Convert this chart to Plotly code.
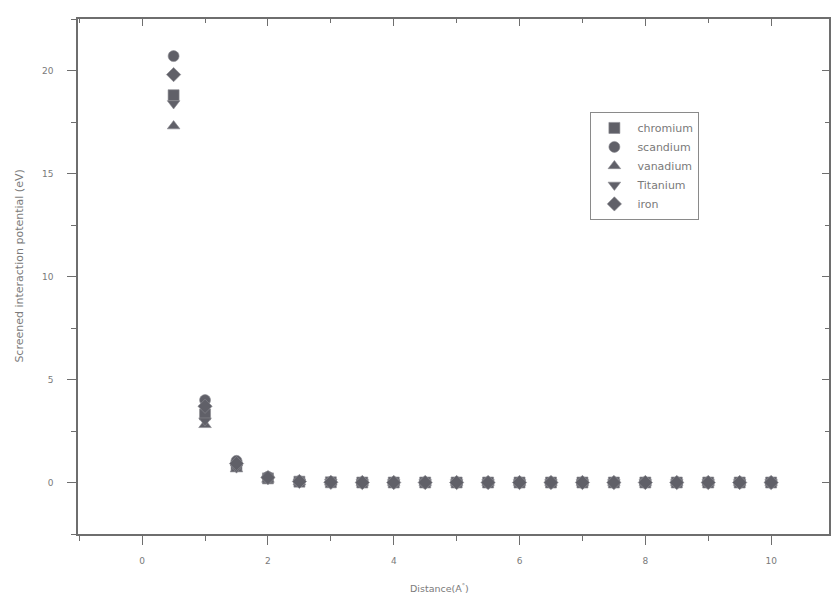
import plotly.graph_objects as go

# Interatomic distance (Angstrom)
distance = [0.5, 1.0, 1.5, 2.0, 2.5, 3.0, 3.5, 4.0, 4.5, 5.0, 5.5, 6.0, 6.5,
            7.0, 7.5, 8.0, 8.5, 9.0, 9.5, 10.0]

# Screened interaction potential (eV) for each metal
chromium = [18.8, 3.3, 0.80, 0.20, 0.04, 0.01, 0.0, 0.0, 0.0, 0.0, 0.0, 0.0,
            0.0, 0.0, 0.0, 0.0, 0.0, 0.0, 0.0, 0.0]
scandium = [20.7, 4.0, 1.05, 0.28, 0.06, 0.02, 0.0, 0.0, 0.0, 0.0, 0.0, 0.0,
            0.0, 0.0, 0.0, 0.0, 0.0, 0.0, 0.0, 0.0]
vanadium = [17.3, 2.8, 0.65, 0.15, 0.03, 0.01, 0.0, 0.0, 0.0, 0.0, 0.0, 0.0,
            0.0, 0.0, 0.0, 0.0, 0.0, 0.0, 0.0, 0.0]
titanium = [18.4, 3.0, 0.72, 0.18, 0.03, 0.01, 0.0, 0.0, 0.0, 0.0, 0.0, 0.0,
            0.0, 0.0, 0.0, 0.0, 0.0, 0.0, 0.0, 0.0]
iron = [19.8, 3.7, 0.92, 0.24, 0.05, 0.01, 0.0, 0.0, 0.0, 0.0, 0.0, 0.0,
        0.0, 0.0, 0.0, 0.0, 0.0, 0.0, 0.0, 0.0]

series_names = ["chromium", "scandium", "vanadium", "Titanium", "iron"]
series_values = [chromium, scandium, vanadium, titanium, iron]
symbols = ["square", "circle", "triangle-up", "triangle-down", "diamond"]

x_ticks = [0, 2, 4, 6, 8, 10]
y_ticks = [0, 5, 10, 15, 20]

MARK = "#606068"
AXIS = "#6e6e6e"
TEXT = "#7a7a7a"
FONT = "DejaVu Sans"

fig = go.Figure()
for name, vals, sym in zip(series_names, series_values, symbols):
    fig.add_trace(go.Scatter(
        x=distance, y=vals, name=name, mode="markers",
        marker=dict(symbol=sym, size=11, color=MARK,
                    line=dict(width=0.6, color="#8a8a90")),
    ))

# invisible trace so the mirrored top/right axes are drawn
fig.add_trace(go.Scatter(x=[None], y=[None], xaxis="x2", yaxis="y2",
                         showlegend=False, hoverinfo="skip"))

x_range = [-1.02, 10.92]
y_range = [-2.5, 22.5]

axis_common = dict(showgrid=False, zeroline=False, showline=True,
                   linecolor=AXIS, linewidth=1.5, tickcolor=AXIS,
                   tickfont=dict(family=FONT, size=9, color=TEXT))

fig.update_layout(
    width=832, height=604,
    margin=dict(l=78, r=3, t=19, b=70),
    paper_bgcolor="white", plot_bgcolor="white",
    font=dict(family=FONT, color=TEXT),
    xaxis=dict(range=x_range, tickvals=x_ticks, ticks="outside", ticklen=9,
               tickwidth=1.2, ticklabelstandoff=8,
               minor=dict(dtick=1, tick0=0, ticks="outside", ticklen=5,
                          tickcolor=AXIS),
               **axis_common),
    yaxis=dict(range=y_range, tickvals=y_ticks, ticks="outside", ticklen=9,
               tickwidth=1.2, ticklabelstandoff=12,
               minor=dict(dtick=2.5, tick0=0, ticks="outside", ticklen=5,
                          tickcolor=AXIS),
               **axis_common),
    xaxis2=dict(range=x_range, overlaying="x", side="top", anchor="y2",
                tickvals=x_ticks, ticks="inside", ticklen=7, showticklabels=False,
                minor=dict(dtick=1, tick0=0, ticks="inside", ticklen=4,
                           tickcolor=AXIS),
                **axis_common),
    yaxis2=dict(range=y_range, overlaying="y", side="right", anchor="x2",
                tickvals=y_ticks, ticks="inside", ticklen=7, showticklabels=False,
                minor=dict(dtick=2.5, tick0=0, ticks="inside", ticklen=4,
                           tickcolor=AXIS),
                **axis_common),
    legend=dict(x=0.682, y=0.819, xanchor="left", yanchor="top",
                bgcolor="white", bordercolor="#8a8a8a", borderwidth=1.2,
                font=dict(family=FONT, size=11, color=TEXT),
                itemwidth=36, tracegroupgap=0),
    showlegend=True,
    annotations=[
        # axis titles
        dict(text="Distance(A<sup>°</sup>)", xref="paper", yref="paper",
             x=0.482, y=-0.09, xanchor="center", yanchor="top",
             showarrow=False, font=dict(family=FONT, size=9.5, color=TEXT)),
        dict(text="Screened interaction potential (eV)", xref="paper",
             yref="paper", x=-0.078, y=0.52, xanchor="center",
             yanchor="middle", textangle=-90, showarrow=False,
             font=dict(family=FONT, size=11, color=TEXT)),
    ],
)

fig.write_html("out.html")
